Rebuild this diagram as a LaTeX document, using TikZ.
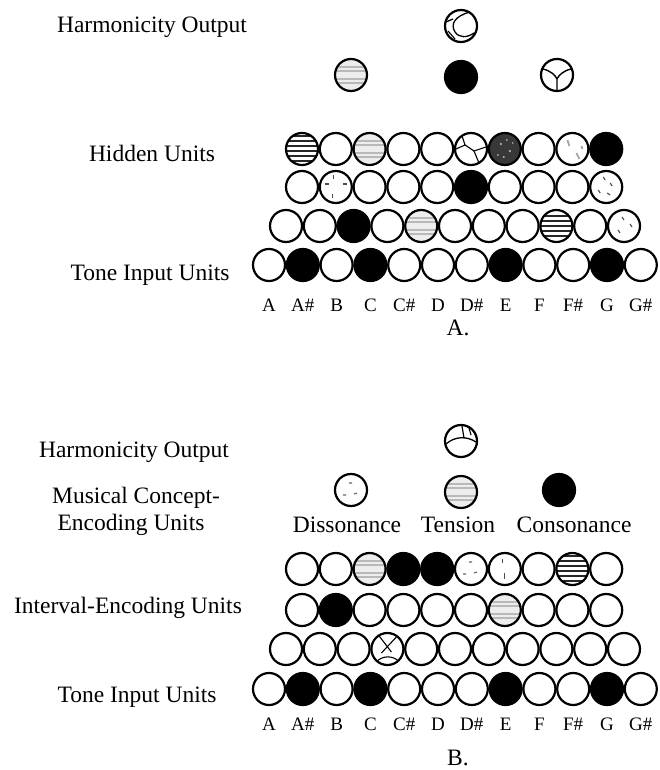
\documentclass[tikz,border=0pt]{standalone}
\usepackage{fontspec}
\setmainfont{Liberation Serif}
\begin{document}
\begin{tikzpicture}[x=1pt,y=-1pt,
  unit/.style={circle, draw=black, line width=2.2pt, minimum size=32pt, inner sep=0pt, fill=white},
  blk/.style={unit, fill=black},
  pp/.style={unit, path picture={\begin{scope}[shift={(path picture bounding box.center)}]#1\end{scope}}},
  gstripe/.style={pp={\fill[gray!14] (-20,-20) rectangle (20,20);
     \foreach \yy in {-8,-4,4,8} \draw[gray!55, line width=1.4pt] (-20,\yy) -- (20,\yy);}},
  tstripe/.style={pp={\foreach \yy in {-13,-8,-3,2,7,12} \draw[black!85, line width=1.6pt, rotate=-10] (-20,\yy) -- (20,\yy);}},
  hstripe/.style={pp={\foreach \yy in {-10,-5,0,5,10} \draw[black!85, line width=1.7pt] (-20,\yy) -- (20,\yy);}},
  dspeck/.style={pp={\fill[black!78] (-20,-20) rectangle (20,20);
     \fill[gray!60] (-4,-5) circle (1.3) (5,2) circle (1.2) (-7,6) circle (1) (2,-9) circle (1) (8,-6) circle (0.9) (-1,8) circle (1.1);}},
  ycirc/.style={pp={\draw[line width=1.4pt] (-14,-6) .. controls (-6,-4) and (-2,0) .. (0,4) -- (0,16);
     \draw[line width=1.4pt] (14,-6) .. controls (6,-4) and (2,0) .. (0,4);}},
  crackT/.style={pp={\draw[line width=1.3pt] (9,-14) .. controls (-6,-10) and (-11,-2) .. (-6,6) .. controls (-2,12) and (6,12) .. (13,7);
     \draw[line width=1.3pt] (-15,-4) -- (-8,-7);
     \draw[line width=1.1pt] (-13,5) -- (-6,13);}},
  crackA/.style={pp={\draw[line width=1.1pt] (-15,0) -- (-6,-4) -- (-9,-13);
     \draw[line width=1.1pt] (-6,-4) -- (3,2) -- (15,-2);
     \draw[line width=1.1pt] (3,2) -- (8,14);}},
  crackB/.style={pp={\draw[line width=1.3pt] (-15,3) .. controls (-6,-5) and (6,-5) .. (15,1);
     \draw[line width=1.2pt] (1,-15) -- (3,-3);
     \draw[line width=1.1pt] (8,-13) -- (10,-6);}},
  crackC/.style={pp={\draw[line width=1.1pt] (-9,-14) -- (4,3);
     \draw[line width=1.1pt] (9,-12) -- (-6,4);
     \draw[line width=1.1pt] (-12,14) .. controls (-6,6) and (6,6) .. (12,13);}},
  marksA/.style={pp={\draw[gray!70, line width=1.8pt] (-5,-9) -- (-3,-3) (4,4) -- (7,10) (9,-3) -- (10,0);}},
  marksB/.style={pp={\draw[black!70, line width=1.1pt] (-11,-3) -- (-7,-3) (-2,-12) -- (-2,-8) (7,-3) -- (11,-3) (-3,7) -- (-3,11);}},
  marksC/.style={pp={\draw[black!70, line width=1.1pt] (-3,-10) -- (-1,-7) (4,-4) -- (6,-1) (-8,3) -- (-6,6) (1,6) -- (4,8);}},
  marksD/.style={pp={\draw[black!70, line width=1.1pt] (-2,-9) -- (0,-6) (6,-2) -- (8,1) (-6,4) -- (-4,7);}},
  marksE/.style={pp={\draw[black!60, line width=1.1pt] (-2,-7) -- (1,-7) (-8,5) -- (-5,5) (3,4) -- (6,3);}},
  marksF/.style={pp={\draw[black!70, line width=1.1pt] (-2,-10) -- (-2,-6) (0,4) -- (0,10);}},
  lbl/.style={font=\fontsize{23.5}{27}\selectfont, anchor=base, inner sep=0pt},
  note/.style={font=\fontsize{19}{22}\selectfont, anchor=base, inner sep=0pt}
]
\useasboundingbox[fill=white] (0,0) rectangle (659,770);

% ---------------- Part A ----------------
\node[lbl] (tAout) at (152,33) {Harmonicity Output};
\node[lbl] (tAhid) at (152,162) {Hidden Units};
\node[lbl] (tAin)  at (150,280) {Tone Input Units};

\node[crackT]  (aout)  at (461,26) {};
\node[gstripe] (am1)   at (351,75) {};
\node[blk]     (am2)   at (461,77) {};
\node[ycirc]   (am3)   at (557,75) {};

\foreach \s [count=\i] in {tstripe,unit,gstripe,unit,unit,crackA,dspeck,unit,marksA,blk}
  \node[\s] (ah1-\i) at ({302+33.8*(\i-1)},149) {};
\foreach \s [count=\i] in {unit,marksB,unit,unit,unit,blk,unit,unit,unit,marksC}
  \node[\s] (ah2-\i) at ({302+33.8*(\i-1)},187) {};
\foreach \s [count=\i] in {unit,unit,blk,unit,gstripe,unit,unit,unit,hstripe,unit,marksD}
  \node[\s] (ah3-\i) at ({286+33.8*(\i-1)},226) {};
\foreach \s [count=\i] in {unit,blk,unit,blk,unit,unit,unit,blk,unit,unit,blk,unit}
  \node[\s] (ain-\i) at ({269+33.8*(\i-1)},265) {};
\foreach \t [count=\i] in {A,A\#,B,C,C\#,D,D\#,E,F,F\#,G,G\#}
  \node[note] (anote-\i) at ({269+33.8*(\i-1)},311) {\t};
\node[lbl] (capA) at (458,335) {A.};

% ---------------- Part B ----------------
\node[lbl] (tBout) at (134,457) {Harmonicity Output};
\node[lbl] (tBcon1) at (136,503) {Musical Concept-};
\node[lbl] (tBcon2) at (131,530) {Encoding Units};
\node[lbl] (tBint) at (128,613) {Interval-Encoding Units};
\node[lbl] (tBin)  at (137,702) {Tone Input Units};

\node[crackB]  (bout) at (461,441) {};
\node[marksE]  (bc1)  at (351,490) {};
\node[gstripe] (bc2)  at (461,492) {};
\node[blk]     (bc3)  at (559,490) {};
\node[lbl] (lDis) at (347,532) {Dissonance};
\node[lbl] (lTen) at (458,532) {Tension};
\node[lbl] (lCon) at (574,532) {Consonance};

\foreach \s [count=\i] in {unit,unit,gstripe,blk,blk,marksE,marksF,unit,tstripe,unit}
  \node[\s] (bh1-\i) at ({302+33.8*(\i-1)},569) {};
\foreach \s [count=\i] in {unit,blk,unit,unit,unit,unit,gstripe,unit,unit,unit}
  \node[\s] (bh2-\i) at ({302+33.8*(\i-1)},610) {};
\foreach \s [count=\i] in {unit,unit,unit,crackC,unit,unit,unit,unit,unit,unit,unit}
  \node[\s] (bh3-\i) at ({286+33.8*(\i-1)},649) {};
\foreach \s [count=\i] in {unit,blk,unit,blk,unit,unit,unit,blk,unit,unit,blk,unit}
  \node[\s] (bin-\i) at ({269+33.8*(\i-1)},689) {};
\foreach \t [count=\i] in {A,A\#,B,C,C\#,D,D\#,E,F,F\#,G,G\#}
  \node[note] (bnote-\i) at ({269+33.8*(\i-1)},730) {\t};
\node[lbl] (capB) at (458,765) {B.};
\end{tikzpicture}
\end{document}
